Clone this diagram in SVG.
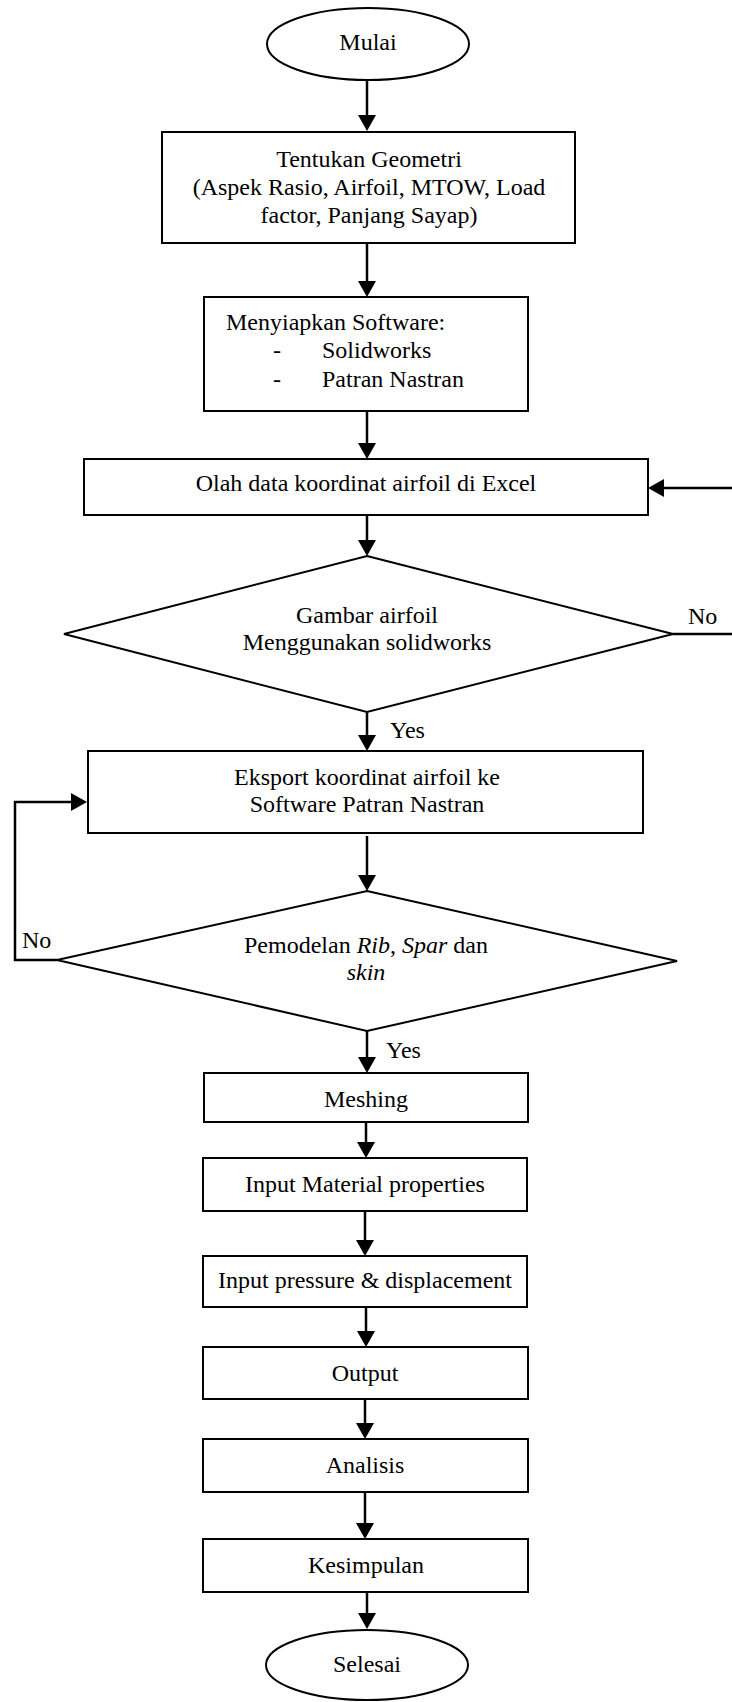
<svg xmlns="http://www.w3.org/2000/svg" width="732" height="1702" viewBox="0 0 732 1702">
<style>
.s{fill:#fff;stroke:#000;stroke-width:2}
.c{fill:none;stroke:#000;stroke-width:2.5}
text{font-family:"Liberation Serif","Times New Roman",serif;font-size:24px;fill:#000}
.m{text-anchor:middle}
.i{font-style:italic}
</style>
<defs>
<marker id="ah" markerUnits="userSpaceOnUse" markerWidth="17" markerHeight="18" refX="1" refY="9" orient="auto">
<path d="M0,0 L16,9 L0,18 Z" fill="#000"/>
</marker>
</defs>
<rect width="732" height="1702" fill="#fff"/>
<g id="connectors">
<line class="c" x1="367" y1="80" x2="367" y2="116" marker-end="url(#ah)"/>
<line class="c" x1="367" y1="243" x2="367" y2="282" marker-end="url(#ah)"/>
<line class="c" x1="367" y1="411" x2="367" y2="444" marker-end="url(#ah)"/>
<line class="c" x1="367" y1="515" x2="367" y2="541" marker-end="url(#ah)"/>
<line class="c" x1="367" y1="712" x2="367" y2="736" marker-end="url(#ah)"/>
<line class="c" x1="367" y1="836" x2="367" y2="876" marker-end="url(#ah)"/>
<line class="c" x1="367" y1="1031" x2="367" y2="1058" marker-end="url(#ah)"/>
<line class="c" x1="366" y1="1122" x2="366" y2="1143" marker-end="url(#ah)"/>
<line class="c" x1="365" y1="1211" x2="365" y2="1241" marker-end="url(#ah)"/>
<line class="c" x1="366" y1="1307" x2="366" y2="1332" marker-end="url(#ah)"/>
<line class="c" x1="365" y1="1399" x2="365" y2="1424" marker-end="url(#ah)"/>
<line class="c" x1="365" y1="1490" x2="365" y2="1524" marker-end="url(#ah)"/>
<line class="c" x1="367" y1="1592" x2="367" y2="1614" marker-end="url(#ah)"/>
<line class="c" x1="732" y1="488" x2="663" y2="488" marker-end="url(#ah)"/>
<line class="c" x1="673" y1="634" x2="732" y2="634"/>
<polyline class="c" points="57,960 15,960 15,802 72,802" marker-end="url(#ah)"/>
<text x="688" y="624">No</text>
<text x="390" y="738">Yes</text>
<text x="22" y="948">No</text>
<text x="386" y="1058">Yes</text>
</g>
<g id="mulai">
<ellipse class="s" cx="368" cy="44" rx="101" ry="36"/>
<text class="m" x="368" y="50">Mulai</text>
</g>
<g id="geometri">
<rect class="s" x="162" y="132" width="413" height="111"/>
<text class="m" x="369" y="167">Tentukan Geometri</text>
<text class="m" x="369" y="195">(Aspek Rasio, Airfoil, MTOW, Load</text>
<text class="m" x="369" y="223">factor, Panjang Sayap)</text>
</g>
<g id="software">
<rect class="s" x="204" y="297" width="324" height="114"/>
<text x="226" y="330">Menyiapkan Software:</text>
<text x="273" y="358">-</text>
<text x="322" y="358">Solidworks</text>
<text x="273" y="387">-</text>
<text x="322" y="387">Patran Nastran</text>
</g>
<g id="olah">
<rect class="s" x="84" y="459" width="564" height="56"/>
<text class="m" x="366" y="491">Olah data koordinat airfoil di Excel</text>
</g>
<g id="gambar">
<polygon class="s" points="367,556 673,634 367,712 64,634"/>
<text class="m" x="367" y="623">Gambar airfoil</text>
<text class="m" x="367" y="650">Menggunakan solidworks</text>
</g>
<g id="eksport">
<rect class="s" x="88" y="751" width="555" height="82"/>
<text class="m" x="367" y="785">Eksport koordinat airfoil ke</text>
<text class="m" x="367" y="812">Software Patran Nastran</text>
</g>
<g id="pemodelan">
<polygon class="s" points="367,891 677,961 367,1031 57,960"/>
<text class="m" x="366" y="953">Pemodelan <tspan class="i">Rib</tspan>, <tspan class="i">Spar</tspan> dan</text>
<text class="m i" x="366" y="980">skin</text>
</g>
<g id="meshing">
<rect class="s" x="204" y="1073" width="324" height="49"/>
<text class="m" x="366" y="1107">Meshing</text>
</g>
<g id="material">
<rect class="s" x="203" y="1158" width="324" height="53"/>
<text class="m" x="365" y="1192">Input Material properties</text>
</g>
<g id="pressure">
<rect class="s" x="203" y="1256" width="324" height="51"/>
<text class="m" x="365" y="1288">Input pressure &amp; displacement</text>
</g>
<g id="output">
<rect class="s" x="203" y="1347" width="325" height="52"/>
<text class="m" x="365" y="1381">Output</text>
</g>
<g id="analisis">
<rect class="s" x="203" y="1439" width="325" height="53"/>
<text class="m" x="365" y="1473">Analisis</text>
</g>
<g id="kesimpulan">
<rect class="s" x="203" y="1539" width="325" height="53"/>
<text class="m" x="366" y="1573">Kesimpulan</text>
</g>
<g id="selesai">
<ellipse class="s" cx="367" cy="1665" rx="101" ry="35"/>
<text class="m" x="367" y="1672">Selesai</text>
</g>
</svg>
